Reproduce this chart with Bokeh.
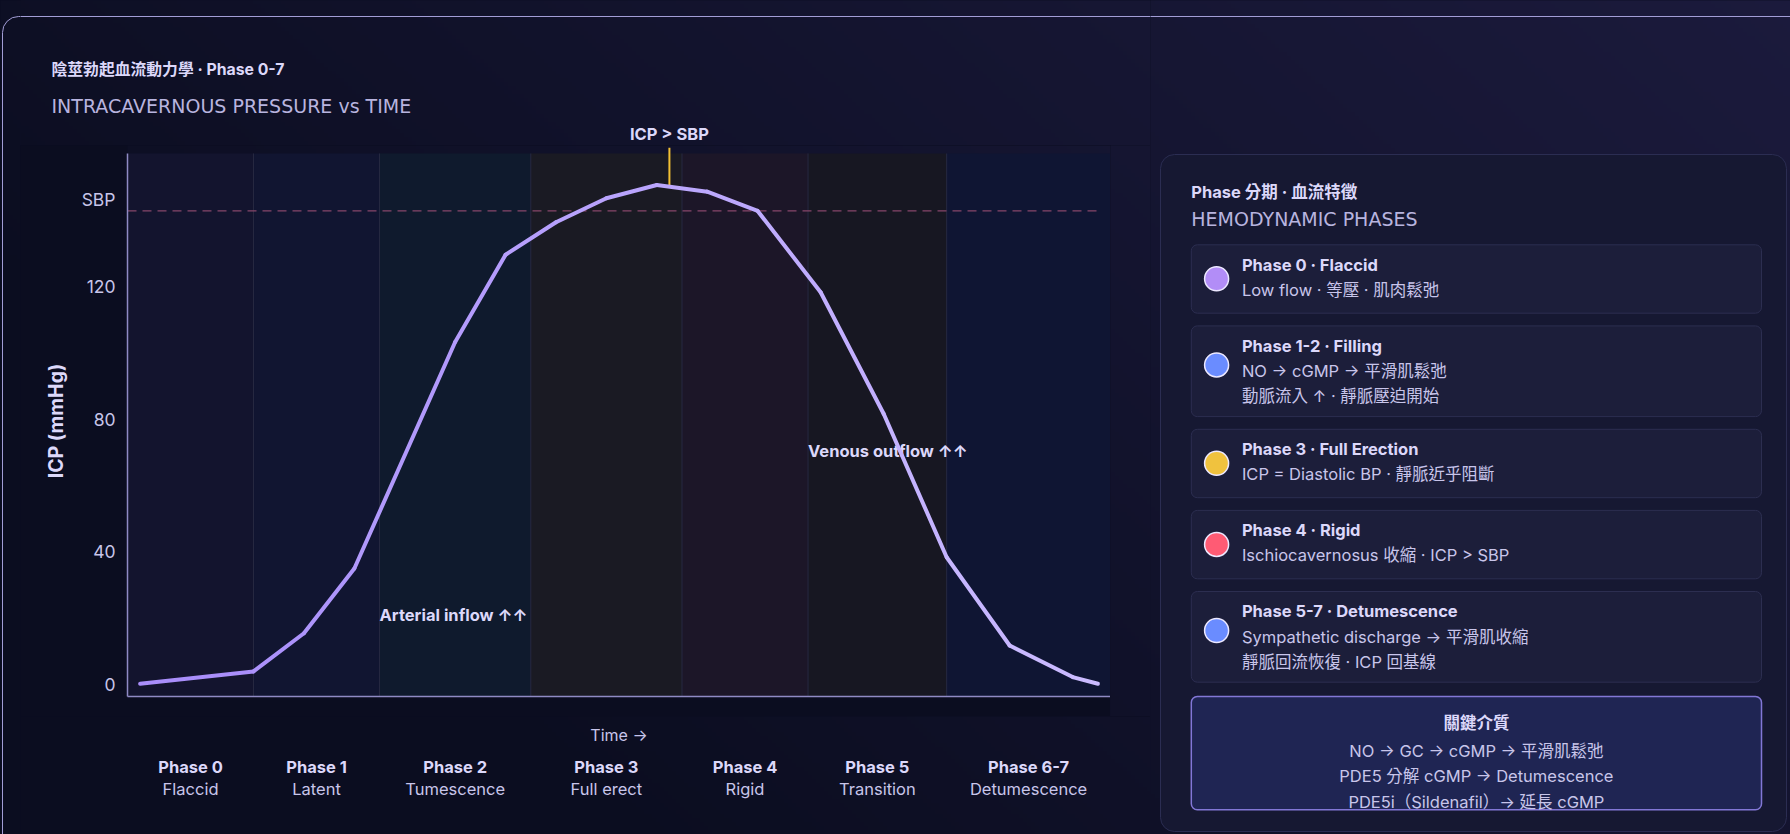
import numpy as np
from bokeh.plotting import figure
from bokeh.layouts import row, column
from bokeh.models import Range1d, FixedTicker
from bokeh.core.properties import value
from bokeh.embed import file_html
from bokeh.resources import INLINE

# ---------------- data ----------------
time_s = [0, 9, 13, 17, 25, 29, 33, 37, 41, 45, 49, 54, 59, 64, 69, 74, 76]
icp_mmhg = [0.3, 4.0, 15.5, 35.0, 103.2, 129.5, 139.3, 146.5, 150.5, 148.5,
            142.7, 118.2, 81.6, 38.4, 11.8, 2.3, 0.3]

phase_names = ["Phase 0", "Phase 1", "Phase 2", "Phase 3", "Phase 4", "Phase 5", "Phase 6-7"]
phase_descs = ["Flaccid", "Latent", "Tumescence", "Full erect", "Rigid", "Transition", "Detumescence"]
phase_starts = [-1, 9, 19, 31, 43, 53, 64]
phase_ends = [9, 19, 31, 43, 53, 64, 77]

y_tick_values = [0, 40, 80, 120]
sbp_tick_value = 146
sbp_tick_label = "SBP"
sbp_level = 142.7
icp_over_sbp_time = 42
icp_over_sbp_level = 150
icp_over_sbp_label = "ICP > SBP"

flow_labels = ["Arterial inflow ↑↑", "Venous outflow ↑↑"]
flow_label_time = [19, 53]
flow_label_icp = [21, 70.5]

main_title = "陰莖勃起血流動力學 · Phase 0-7"
main_subtitle = "INTRACAVERNOUS PRESSURE vs TIME"
y_label = "ICP (mmHg)"
x_label = "Time →"

panel_title = "Phase 分期 · 血流特徵"
panel_subtitle = "HEMODYNAMIC PHASES"
card_titles = ["Phase 0 · Flaccid", "Phase 1-2 · Filling", "Phase 3 · Full Erection",
               "Phase 4 · Rigid", "Phase 5-7 · Detumescence"]
card_lines = [["Low flow · 等壓 · 肌肉鬆弛"],
              ["NO → cGMP → 平滑肌鬆弛", "動脈流入 ↑ · 靜脈壓迫開始"],
              ["ICP = Diastolic BP · 靜脈近乎阻斷"],
              ["Ischiocavernosus 收縮 · ICP > SBP"],
              ["Sympathetic discharge → 平滑肌收縮", "靜脈回流恢復 · ICP 回基線"]]
card_dot_colors = ["#b28df7", "#6a8cff", "#f0c23e", "#ff5b74", "#6a8cff"]
key_title = "關鍵介質"
key_lines = ["NO → GC → cGMP → 平滑肌鬆弛",
             "PDE5 分解 cGMP → Detumescence",
             "PDE5i（Sildenafil）→ 延長 cGMP"]

# ---------------- styling ----------------
W, H = 1790, 834
FONT = "Inter, Noto Sans CJK TC"
WIDE_FONT = "DejaVu Sans"
C_TITLE = "#dcd8fa"
C_SUB = "#b8b4df"
C_TEXT = "#c8c5ea"
C_AXIS = "#8f8ac4"
C_BORDER = "#a29dd6"
phase_colors = ["#13142e", "#111531", "#0f1a2d", "#1a1a23", "#1c1628", "#171722", "#0f1533"]

XMIN, XMAX = -1, 77
YMIN, YMAX = -3.55, 162.4
Y_SHADE_TOP = 160
LW = 20            # width of left border strip
MIDW = 1150 - LW   # width of middle column
# screen geometry of chart frame
FX0, FX1, FY0, FY1 = 127, 1110, 145, 696
BOT = 20
XSCALE = (FX1 - FX0) / (XMAX - XMIN)
YSCALE = (FY1 - FY0) / (YMAX - YMIN)
PAD = 8


def bg_rgb(sx, sy):
    s = np.clip(0.85 * sx / W + 0.45 * (1 - sy / H) - 0.3, 0, 1)
    return 11 + 16 * s, 13 + 13 * s, 32 + 28 * s


def hexcol(r, g, b):
    return "#%02x%02x%02x" % (int(round(r)), int(round(g)), int(round(b)))


def bg_image(sx0, sx1, sy0, sy1, step=4):
    nx = max(1, int(np.ceil((sx1 - sx0) / step)))
    ny = max(1, int(np.ceil((sy1 - sy0) / step)))
    xs = sx0 + (np.arange(nx) + 0.5) * (sx1 - sx0) / nx
    ys = sy1 - (np.arange(ny) + 0.5) * (sy1 - sy0) / ny  # row 0 = bottom
    X, Y = np.meshgrid(xs, ys)
    r, g, b = bg_rgb(X, Y)
    img = np.empty((ny, nx, 4), dtype=np.uint8)
    img[..., 0] = np.round(r)
    img[..., 1] = np.round(g)
    img[..., 2] = np.round(b)
    img[..., 3] = 255
    return img.view(np.uint32).reshape(ny, nx)


BG0 = hexcol(*bg_rgb(0, H))


def noalign(p):
    try:
        p.frame_align = False
    except Exception:
        pass
    return p


def deco_fig(w, h, sx0, sy0):
    """figure whose data coords are screen x and (H - screen y)."""
    p = figure(width=w, height=h, x_range=Range1d(sx0, sx0 + w),
               y_range=Range1d(H - (sy0 + h), H - sy0),
               output_backend="svg", toolbar_location=None, tools="",
               x_axis_type=None, y_axis_type=None, min_border=0)
    noalign(p)
    p.outline_line_color = None
    cx, cy = sx0 + w / 2, sy0 + h / 2
    p.background_fill_color = hexcol(*bg_rgb(cx, cy))
    p.border_fill_color = p.background_fill_color
    p.image_rgba(image=[bg_image(sx0 - PAD, sx0 + w + PAD, sy0 - PAD, sy0 + h + PAD)],
                 x=sx0 - PAD, y=H - (sy0 + h + PAD), dw=w + 2 * PAD, dh=h + 2 * PAD)
    return p


def card_border(p):
    # outer card outline (top-left rounded corner), in screen-like coords
    p.segment(x0=[2], y0=[0], x1=[2], y1=[H - 32], line_color=C_BORDER, line_width=1)
    p.arc(x=[18], y=[H - 32], radius=16, start_angle=np.pi / 2, end_angle=np.pi,
          line_color=C_BORDER, line_width=1)
    p.segment(x0=[18], y0=[H - 16], x1=[W], y1=[H - 16], line_color=C_BORDER, line_width=1)


def txt(p, x, y, s, size="16.5px", bold=False, color=C_TEXT, align="left", font=FONT):
    p.text(x=[x], y=[y], text=[s], text_font=value(font), text_font_size=value(size),
           text_font_style="bold" if bold else "normal", text_color=color,
           text_align=align, text_baseline="middle")


def rquad(p, radius, **kw):
    try:
        return p.quad(border_radius=radius, **kw)
    except Exception:
        return p.quad(**kw)


def chart_sx(t):
    return FX0 + (t - XMIN) * XSCALE


# ---------------- left border strip ----------------
pl = deco_fig(LW, H, 0, 0)
card_border(pl)

# ---------------- top (titles) ----------------
pt = deco_fig(MIDW, FY0, LW, 0)
card_border(pt)
txt(pt, 51, H - 69.3, main_title, size="15.8px", bold=True, color=C_TITLE)
txt(pt, 51, H - 105.3, main_subtitle, size="19px", color=C_SUB, font=WIDE_FONT)
txt(pt, chart_sx(icp_over_sbp_time), H - 133.8, icp_over_sbp_label, size="16.5px", bold=True,
    color=C_TITLE, align="center")

# ---------------- chart ----------------
pc = figure(width=FX1 - LW, height=(FY1 - FY0) + BOT,
            x_range=Range1d(XMIN, XMAX), y_range=Range1d(YMIN, YMAX),
            output_backend="svg", toolbar_location=None, tools="",
            min_border_left=FX0 - LW, min_border_right=0, min_border_top=0, min_border_bottom=BOT)
noalign(pc)
pc.outline_line_color = None
pc.background_fill_color = BG0
pc.border_fill_color = BG0
pc.grid.visible = False
pc.image_rgba(image=[bg_image(FX0 - PAD, FX1 + PAD, FY0 - PAD, FY1 + PAD)],
              x=XMIN - PAD / XSCALE, y=YMIN - PAD / YSCALE,
              dw=XMAX - XMIN + 2 * PAD / XSCALE, dh=YMAX - YMIN + 2 * PAD / YSCALE)
pc.quad(left=phase_starts, right=phase_ends, bottom=YMIN, top=Y_SHADE_TOP,
        fill_color=phase_colors, line_color=None)
pc.segment(x0=phase_ends, y0=YMIN, x1=phase_ends, y1=Y_SHADE_TOP, line_color="#272942", line_width=1)
pc.segment(x0=[XMIN], y0=[sbp_level], x1=[time_s[-1]], y1=[sbp_level],
           line_color="#86466a", line_width=1.2, line_dash="9 6")
pc.text(x=flow_label_time, y=flow_label_icp, text=flow_labels, text_font=value(FONT),
        text_font_size=value("16.5px"), text_font_style="bold", text_color=C_TITLE,
        text_align="left", text_baseline="middle")
pc.segment(x0=[icp_over_sbp_time], y0=[icp_over_sbp_level], x1=[icp_over_sbp_time], y1=[161.7],
           line_color="#f2c033", line_width=2)

c0 = np.array([167, 139, 250])
c1 = np.array([203, 188, 255])
seg_cols = []
for i in range(len(time_s) - 1):
    f = ((time_s[i] + time_s[i + 1]) / 2 - time_s[0]) / (time_s[-1] - time_s[0])
    seg_cols.append(hexcol(*(c0 + (c1 - c0) * f)))
pc.segment(x0=time_s[:-1], y0=icp_mmhg[:-1], x1=time_s[1:], y1=icp_mmhg[1:],
           line_color=seg_cols, line_width=4, line_cap="round")

yax = pc.yaxis[0]
yax.ticker = FixedTicker(ticks=y_tick_values + [sbp_tick_value])
yax.major_label_overrides = {sbp_tick_value: sbp_tick_label}
yax.bounds = (YMIN, Y_SHADE_TOP)
yax.axis_line_color = C_AXIS
yax.axis_line_width = 1.5
yax.major_tick_line_color = None
yax.minor_tick_line_color = None
yax.major_tick_out = 0
yax.major_tick_in = 0
yax.major_label_standoff = 12
yax.major_label_text_font = FONT
yax.major_label_text_font_size = "17.5px"
yax.major_label_text_color = C_TEXT
yax.axis_label = y_label
yax.axis_label_text_font = FONT
yax.axis_label_text_font_style = "bold"
yax.axis_label_text_font_size = "19.5px"
yax.axis_label_text_color = C_TITLE
yax.axis_label_standoff = 11

xax = pc.xaxis[0]
xax.ticker = FixedTicker(ticks=[])
xax.axis_line_color = C_AXIS
xax.axis_line_width = 1.5
xax.major_tick_line_color = None
xax.minor_tick_line_color = None
xax.major_tick_out = 0
xax.major_tick_in = 0
xax.major_label_text_font_size = "0px"

# right filler strip next to the chart
pr = deco_fig(1150 - FX1, (FY1 - FY0) + BOT, FX1, FY0)

# ---------------- bottom (phase labels) ----------------
BY0 = FY1 + BOT
pb = figure(width=MIDW, height=H - BY0,
            x_range=Range1d(XMIN - (FX0 - LW) / XSCALE, XMAX + (1150 - FX1) / XSCALE),
            y_range=Range1d(0, H - BY0),
            output_backend="svg", toolbar_location=None, tools="",
            x_axis_type=None, y_axis_type=None, min_border=0)
noalign(pb)
pb.outline_line_color = None
pb.background_fill_color = BG0
pb.border_fill_color = BG0
pb.image_rgba(image=[bg_image(LW - PAD, 1150 + PAD, BY0 - PAD, H + PAD)],
              x=pb.x_range.start - PAD / XSCALE, y=-PAD,
              dw=pb.x_range.end - pb.x_range.start + 2 * PAD / XSCALE, dh=H - BY0 + 2 * PAD)
phase_mid = [(a + b) / 2 for a, b in zip(phase_starts, phase_ends)]
pb.text(x=[(XMIN + XMAX) / 2], y=[H - 734.3], text=[x_label], text_font=value(FONT),
        text_font_size=value("16px"), text_color=C_TEXT, text_align="center", text_baseline="middle")
pb.text(x=phase_mid, y=[H - 766] * len(phase_mid), text=phase_names, text_font=value(FONT),
        text_font_size=value("16.5px"), text_font_style="bold", text_color=C_TITLE,
        text_align="center", text_baseline="middle")
pb.text(x=phase_mid, y=[H - 788.3] * len(phase_mid), text=phase_descs, text_font=value(FONT),
        text_font_size=value("16.5px"), text_color=C_TEXT,
        text_align="center", text_baseline="middle")

# ---------------- right panel ----------------
pp = deco_fig(W - 1150, H, 1150, 0)
card_border(pp)
rquad(pp, 14, left=[1160], right=[1786], top=[H - 154], bottom=[H - 831],
      fill_color="#161832", line_color="#2b2d52", line_width=1)
txt(pp, 1190.8, H - 191, panel_title, size="16.5px", bold=True, color=C_TITLE)
txt(pp, 1190.8, H - 218.3, panel_subtitle, size="19px", color=C_SUB, font=WIDE_FONT)

CL, CR = 1190.8, 1761
top = 244.3
for i, (ttl, lines) in enumerate(zip(card_titles, card_lines)):
    h = 68.4 + 22.3 * (len(lines) - 1)
    rquad(pp, 6, left=[CL], right=[CR], top=[H - top], bottom=[H - (top + h)],
          fill_color="#1c1e3a", line_color="#2c2e50", line_width=1)
    dot_y = top + (34 if len(lines) == 1 else 39)
    pp.circle(x=[1216.1], y=[H - dot_y], radius=12, fill_color=card_dot_colors[i],
              line_color="#ece8ff", line_width=1.5)
    ty = top + 19.7
    txt(pp, 1241.4, H - ty, ttl, size="16.5px", bold=True, color=C_TITLE)
    for k, ln in enumerate(lines):
        txt(pp, 1241.4, H - (ty + 25.3 * (k + 1)), ln, size="16.5px", color=C_TEXT)
    top = top + h + 12.7

rquad(pp, 6, left=[CL], right=[CR], top=[H - 696], bottom=[H - 809.3],
      fill_color="#1f2553", line_color="#8277d6", line_width=1.5)
KX = (CL + CR) / 2
txt(pp, KX, H - 722.7, key_title, size="16.5px", bold=True, color=C_TITLE, align="center")
for k, ln in enumerate(key_lines):
    txt(pp, KX, H - (750.7 + 25.2 * k), ln, size="16.5px", color=C_TEXT, align="center")

STY = {"background-color": BG0}
layout = row(pl, column(pt, row(pc, pr, styles=STY), pb, styles=STY), pp, styles=STY)

with open("out.html", "w", encoding="utf-8") as f:
    f.write(file_html(layout, INLINE))
